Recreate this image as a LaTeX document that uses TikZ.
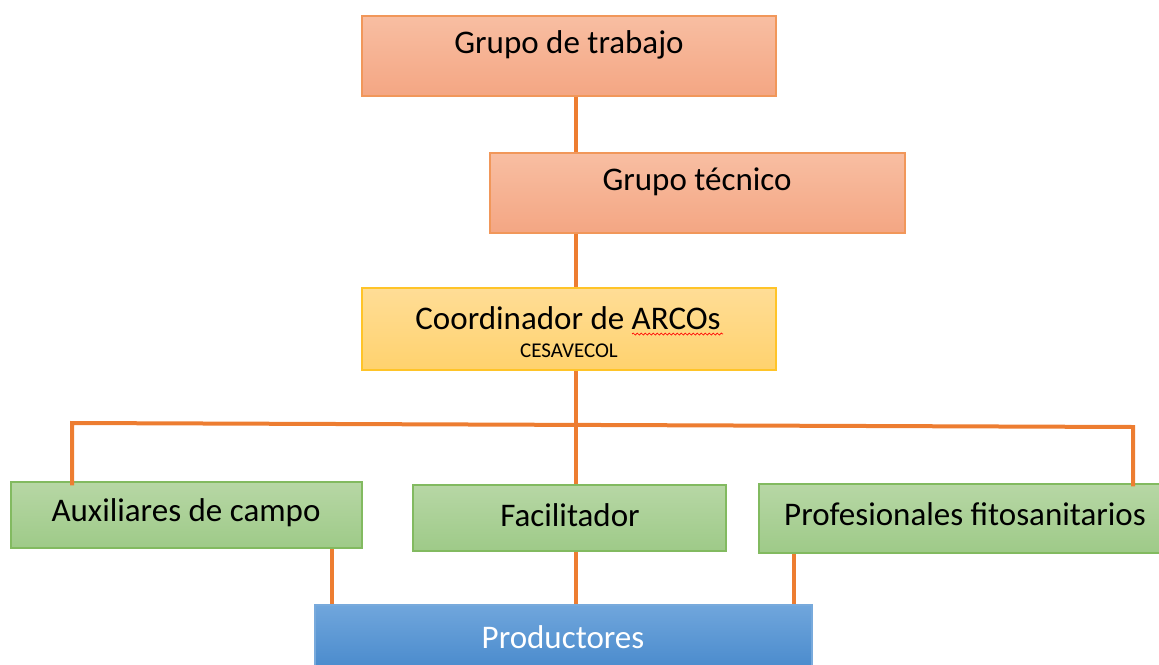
\documentclass[tikz,border=0pt]{standalone}
\usepackage{fontspec}
\setmainfont{Carlito}
\usepackage{tikz}
\usetikzlibrary{calc,decorations.pathmorphing}
\definecolor{linea}{HTML}{ED7D31}
\tikzset{caja/.style={rectangle, draw, line width=1.2pt, inner sep=0pt},
         salmon/.style={caja, draw=linea!80, top color={rgb,255:red,248;green,190;blue,162}, bottom color={rgb,255:red,244;green,166;blue,131}},
         amarillo/.style={caja, draw={rgb,255:red,255;green,196;blue,40}, top color={rgb,255:red,255;green,221;blue,150}, bottom color={rgb,255:red,255;green,210;blue,110}},
         verde/.style={caja, draw={rgb,255:red,130;green,186;blue,96}, top color={rgb,255:red,183;green,215;blue,165}, bottom color={rgb,255:red,158;green,202;blue,136}},
         azul/.style={caja, draw={rgb,255:red,120;green,170;blue,220}, top color={rgb,255:red,112;green,166;blue,220}, bottom color={rgb,255:red,70;green,136;blue,203}},
         txt/.style={font=\fontsize{33}{38}\selectfont, inner sep=0pt},
         conn/.style={linea, line width=4pt}}

\begin{document}
\begin{tikzpicture}[x=1pt,y=-1pt]
\useasboundingbox (0,0) rectangle (1159,664);

% cajas
\node[salmon, minimum width=414, minimum height=80] (trabajo) at (569,56) {};
\node[salmon, minimum width=415, minimum height=80] (tecnico) at (697.5,193) {};
\node[amarillo, minimum width=414, minimum height=82] (coord) at (569,329) {};
\node[verde, minimum width=351, minimum height=66] (aux) at (186.5,515) {};
\node[verde, minimum width=313, minimum height=66] (facil) at (569.5,518) {};
\node[verde, minimum width=403, minimum height=69] (prof) at (960.5,518.5) {};
\node[azul, minimum width=497, minimum height=70] (prod) at (563.5,640) {};

% textos
\node[txt] (t1) at (569,45) {Grupo de trabajo};
\node[txt] (t2) at (697,182) {Grupo t\'ecnico};
\node[txt] (t3) at (568,318) {Coordinador de ARCOs};
\node[font=\fontsize{21}{24}\selectfont, inner sep=0pt] (t4) at (569,351) {CESAVECOL};
\node[txt] (t5) at (186,513) {Auxiliares de campo};
\node[txt] (t6) at (570,515) {Facilitador};
\node[txt] (t7) at (965,514) {Profesionales fitosanitarios};
\node[txt, white] (t8) at (563,637) {Productores};

\draw[red, line width=0.7pt, decorate, decoration={snake, amplitude=1pt, segment length=4pt}] (632,334) -- (723,334);

% conectores
\coordinate (rama) at (576,425);
\draw[conn] ([xshift=7pt]trabajo.south) -- ([xshift=7pt]trabajo.south |- tecnico.north);
\draw[conn] (tecnico.south -| rama) -- (coord.north -| rama);
\draw[conn] (coord.south -| rama) -- (facil.north -| rama);
\draw[conn] ([yshift=-4pt]aux.north -| 72,0) -- (72,423) -- (1133,427) -- ([yshift=-3pt]prof.north -| 1133,0);
\foreach \x/\a in {332/aux, 576/facil, 794/prof}
  \draw[conn] (\a.south -| \x,0) -- (prod.north -| \x,0);
\end{tikzpicture}
\end{document}
